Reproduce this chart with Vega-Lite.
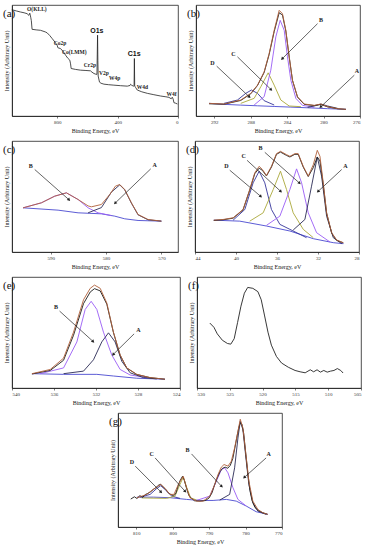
{
"$schema":"https://vega.github.io/schema/vega-lite/v6.json",
"padding":{"left":2,"top":4,"right":0,"bottom":0},
"background":"white",
"config":{
 "font":"Liberation Serif",
 "view":{"stroke":"#222","strokeWidth":0.8},
 "axis":{"labelFont":"Liberation Serif","titleFont":"Liberation Serif","labelFontSize":5,"titleFontSize":6,"titleFontWeight":"normal","labelColor":"#333","titleColor":"#222","domainColor":"#222","tickColor":"#222","grid":false,"tickSize":2,"domainWidth":0.8,"tickWidth":0.6,"labelPadding":1,"titlePadding":3},
 "axisY":{"labels":false,"ticks":false,"titlePadding":3},
 "title":{"font":"Liberation Serif","fontSize":11,"fontWeight":"normal","anchor":"start","frame":"bounds","offset":-14,"color":"#111"},
 "concat":{"spacing":6}
},
"datasets":{
"aC":[{"be":1101,"y":95.8},{"be":1070,"y":94.6},{"be":1044,"y":93.7},{"be":1020,"y":93.0},{"be":1000,"y":92.2},{"be":989,"y":90.7},{"be":982,"y":92.6},{"be":976,"y":89},{"be":972,"y":86},{"be":967,"y":78.1},{"be":940,"y":77.6},{"be":911,"y":77.2},{"be":880,"y":75.8},{"be":867,"y":74.9},{"be":850,"y":72.5},{"be":834,"y":69.8},{"be":815,"y":66.5},{"be":801,"y":63.8},{"be":796,"y":61.5},{"be":790,"y":61.2},{"be":779,"y":60.8},{"be":760,"y":58},{"be":745,"y":54.8},{"be":730,"y":52},{"be":717,"y":50.3},{"be":712,"y":47},{"be":708,"y":42.8},{"be":680,"y":42},{"be":646,"y":41.3},{"be":610,"y":41},{"be":580,"y":40.7},{"be":570,"y":39.5},{"be":557,"y":38.3},{"be":546,"y":37.7},{"be":537,"y":37.5},{"be":535,"y":55},{"be":533,"y":72.8},{"be":531,"y":50},{"be":529,"y":36},{"be":520,"y":30.5},{"be":510,"y":29.5},{"be":491,"y":28.7},{"be":460,"y":28.2},{"be":425,"y":27.8},{"be":380,"y":27.3},{"be":336,"y":26.9},{"be":318,"y":27.5},{"be":314,"y":28.6},{"be":308,"y":27.8},{"be":296,"y":26.9},{"be":291,"y":27.2},{"be":289,"y":51.8},{"be":287,"y":27},{"be":280,"y":25.5},{"be":270,"y":23.4},{"be":240,"y":21.8},{"be":203,"y":20.4},{"be":160,"y":19.2},{"be":115,"y":18.0},{"be":80,"y":17.3},{"be":60,"y":16.8},{"be":45,"y":15.5},{"be":38,"y":16.9},{"be":32,"y":15.2},{"be":27,"y":12.0},{"be":15,"y":11.5},{"be":4,"y":10.8}],
"aL":[{"lab":"O(KLL)","be":1000,"y":96.7},{"lab":"Co2p","be":823,"y":66.2},{"lab":"Co(LMM)","be":768,"y":57.8},{"lab":"O1s","be":538,"y":76.5},{"lab":"Cr2p","be":624,"y":45.8},{"lab":"V2p","be":524,"y":38.9},{"lab":"W4p","be":458,"y":33.8},{"lab":"C1s","be":290,"y":56.3},{"lab":"W4d","be":274,"y":25.7},{"lab":"W4f","be":77,"y":19.8}],
"bC":[
{"s":"bg","be":292.57,"y":11.4},{"s":"bg","be":290.92,"y":10.5},{"s":"bg","be":289.09,"y":9.8},{"s":"bg","be":287.25,"y":9.2},{"s":"bg","be":285.42,"y":8.6},{"s":"bg","be":283.59,"y":8.0},{"s":"bg","be":281.76,"y":7.4},{"s":"bg","be":279.56,"y":6.6},{"s":"bg","be":277.54,"y":6.0},
{"s":"D","be":290.92,"y":11.4},{"s":"D","be":289.45,"y":14.4},{"s":"D","be":288.54,"y":20.4},{"s":"D","be":287.91,"y":23.4},{"s":"D","be":287.25,"y":20.4},{"s":"D","be":286.52,"y":13.8},{"s":"D","be":285.42,"y":9.9},
{"s":"C","be":289.09,"y":11.4},{"s":"C","be":287.62,"y":15.9},{"s":"C","be":286.89,"y":26.3},{"s":"C","be":286.08,"y":38.9},{"s":"C","be":285.42,"y":27.8},{"s":"C","be":284.69,"y":14.4},{"s":"C","be":283.77,"y":9.0},{"s":"C","be":282.49,"y":8.4},
{"s":"B","be":287.62,"y":9.9},{"s":"B","be":286.52,"y":17.4},{"s":"B","be":285.79,"y":41.3},{"s":"B","be":285.24,"y":71.3},{"s":"B","be":284.76,"y":86.2},{"s":"B","be":284.32,"y":77.2},{"s":"B","be":283.96,"y":53.3},{"s":"B","be":283.59,"y":32.3},{"s":"B","be":283.04,"y":15.9},{"s":"B","be":282.31,"y":9.6},{"s":"B","be":281.02,"y":7.8},
{"s":"A","be":281.76,"y":7.8},{"s":"A","be":281.02,"y":9.0},{"s":"A","be":280.29,"y":10.8},{"s":"A","be":279.56,"y":9.0},{"s":"A","be":278.46,"y":6.9},
{"s":"data","be":292.57,"y":11.0},{"s":"data","be":290.92,"y":10.6},{"s":"data","be":289.09,"y":14.0},{"s":"data","be":287.99,"y":20.0},{"s":"data","be":287.25,"y":27.5},{"s":"data","be":286.52,"y":39.2},{"s":"data","be":285.97,"y":55.5},{"s":"data","be":285.42,"y":76.0},{"s":"data","be":284.87,"y":93.0},{"s":"data","be":284.51,"y":91.0},{"s":"data","be":284.14,"y":76.5},{"s":"data","be":283.77,"y":53.0},{"s":"data","be":283.41,"y":32.0},{"s":"data","be":282.86,"y":17.0},{"s":"data","be":282.12,"y":10.5},{"s":"data","be":281.02,"y":9.4},{"s":"data","be":280.29,"y":10.4},{"s":"data","be":279.56,"y":8.2},{"s":"data","be":278.46,"y":6.5},{"s":"data","be":277.54,"y":6.0},
{"s":"fit","be":292.57,"y":11.4},{"s":"fit","be":290.92,"y":10.8},{"s":"fit","be":289.09,"y":14.4},{"s":"fit","be":287.99,"y":20.4},{"s":"fit","be":287.25,"y":27.8},{"s":"fit","be":286.52,"y":39.8},{"s":"fit","be":285.97,"y":56.3},{"s":"fit","be":285.42,"y":77.2},{"s":"fit","be":284.87,"y":95.2},{"s":"fit","be":284.51,"y":92.2},{"s":"fit","be":284.14,"y":77.2},{"s":"fit","be":283.77,"y":53.3},{"s":"fit","be":283.41,"y":32.3},{"s":"fit","be":282.86,"y":17.4},{"s":"fit","be":282.12,"y":10.8},{"s":"fit","be":281.02,"y":9.6},{"s":"fit","be":280.29,"y":10.8},{"s":"fit","be":279.56,"y":8.4},{"s":"fit","be":278.46,"y":6.6},{"s":"fit","be":277.54,"y":6.0}],
"bA":[{"lab":"B","lx":280.29,"ly":86.8,"x1":280.66,"y1":83.2,"x2":284.51,"y2":51.8},{"lab":"C","lx":289.89,"ly":56.3,"x1":289.45,"y1":53.3,"x2":285.79,"y2":24.0},{"lab":"D","lx":292.2,"ly":47.9,"x1":291.73,"y1":44.9,"x2":288.17,"y2":17.4},{"lab":"A","lx":276.33,"ly":40.7,"x1":276.62,"y1":36.8,"x2":280.29,"y2":8.4}],
"cC":[
{"s":"bg","be":595,"y":39.8},{"s":"bg","be":588.67,"y":37.7},{"s":"bg","be":585.06,"y":35.3},{"s":"bg","be":580.84,"y":34.4},{"s":"bg","be":578.43,"y":32.3},{"s":"bg","be":576.63,"y":29.9},{"s":"bg","be":574.22,"y":28.4},{"s":"bg","be":570,"y":27.8},
{"s":"B","be":595,"y":39.8},{"s":"B","be":591.69,"y":44.3},{"s":"B","be":589.28,"y":50.3},{"s":"B","be":587.17,"y":53.3},{"s":"B","be":585.06,"y":47.3},{"s":"B","be":583.25,"y":39.8},{"s":"B","be":581.45,"y":35.3},{"s":"B","be":579.04,"y":32.8},
{"s":"A","be":583.25,"y":35.3},{"s":"A","be":580.84,"y":40.0},{"s":"A","be":579.04,"y":53.9},{"s":"A","be":577.53,"y":60.5},{"s":"A","be":576.63,"y":56.0},{"s":"A","be":575.42,"y":44.0},{"s":"A","be":574.22,"y":33.5},{"s":"A","be":572.41,"y":29.0},{"s":"A","be":570,"y":27.8},
{"s":"fit","be":595,"y":39.8},{"s":"fit","be":591.69,"y":44.3},{"s":"fit","be":589.28,"y":50.3},{"s":"fit","be":587.17,"y":53.3},{"s":"fit","be":585.06,"y":47.3},{"s":"fit","be":583.25,"y":41.5},{"s":"fit","be":582.65,"y":40.7},{"s":"fit","be":580.84,"y":42.8},{"s":"fit","be":579.34,"y":51.8},{"s":"fit","be":578.31,"y":59.3},{"s":"fit","be":577.53,"y":60.8},{"s":"fit","be":576.63,"y":56.3},{"s":"fit","be":575.42,"y":44.3},{"s":"fit","be":574.22,"y":33.8},{"s":"fit","be":572.41,"y":29.3},{"s":"fit","be":570,"y":27.8}],
"cA":[{"lab":"B","lx":593.61,"ly":77.8,"x1":592.89,"y1":74.3,"x2":586.75,"y2":47.3},{"lab":"A","lx":571.2,"ly":78.1,"x1":571.93,"y1":74.9,"x2":578.31,"y2":44.3}],
"dC":[
{"s":"bg","be":42.17,"y":28.7},{"s":"bg","be":39.63,"y":27.8},{"s":"bg","be":37.03,"y":23.4},{"s":"bg","be":34.74,"y":18.9},{"s":"bg","be":32.46,"y":12.0},{"s":"bg","be":30.51,"y":8.4},{"s":"bg","be":29.53,"y":7.5},
{"s":"D","be":40.28,"y":28.7},{"s":"D","be":39.14,"y":38.3},{"s":"D","be":38.33,"y":62.3},{"s":"D","be":37.74,"y":72.8},{"s":"D","be":37.19,"y":62.3},{"s":"D","be":36.54,"y":38.3},{"s":"D","be":35.72,"y":24.9},{"s":"D","be":34.74,"y":20.4},{"s":"D","be":33.12,"y":12.9},
{"s":"C","be":38.66,"y":27.8},{"s":"C","be":37.35,"y":35.3},{"s":"C","be":36.37,"y":56.3},{"s":"C","be":35.66,"y":72.8},{"s":"C","be":35.07,"y":56.3},{"s":"C","be":34.42,"y":35.3},{"s":"C","be":33.44,"y":20.4},{"s":"C","be":32.46,"y":12.9},
{"s":"B","be":37.03,"y":24.0},{"s":"B","be":35.72,"y":32.3},{"s":"B","be":34.74,"y":56.3},{"s":"B","be":34.09,"y":74.9},{"s":"B","be":33.6,"y":62.3},{"s":"B","be":32.95,"y":35.3},{"s":"B","be":32.14,"y":17.4},{"s":"B","be":30.83,"y":9.0},
{"s":"A","be":34.42,"y":19.8},{"s":"A","be":33.28,"y":29.3},{"s":"A","be":32.63,"y":59.3},{"s":"A","be":32.07,"y":85.6},{"s":"A","be":31.65,"y":68.3},{"s":"A","be":31.16,"y":32.3},{"s":"A","be":30.51,"y":12.9},{"s":"A","be":29.69,"y":7.5},
{"s":"data","be":42.17,"y":28.4},{"s":"data","be":41.26,"y":29.0},{"s":"data","be":40.28,"y":30.5},{"s":"data","be":39.31,"y":38.0},{"s":"data","be":38.66,"y":55.8},{"s":"data","be":38.17,"y":70.5},{"s":"data","be":37.74,"y":75.5},{"s":"data","be":37.42,"y":73.5},{"s":"data","be":37.03,"y":68.5},{"s":"data","be":36.54,"y":76.5},{"s":"data","be":36.05,"y":88.0},{"s":"data","be":35.66,"y":90.0},{"s":"data","be":35.07,"y":87.0},{"s":"data","be":34.74,"y":85.6},{"s":"data","be":34.26,"y":88.0},{"s":"data","be":33.93,"y":88.0},{"s":"data","be":33.44,"y":76.5},{"s":"data","be":32.95,"y":68.0},{"s":"data","be":32.46,"y":76.0},{"s":"data","be":32.07,"y":85.6},{"s":"data","be":31.81,"y":82.0},{"s":"data","be":31.49,"y":61.0},{"s":"data","be":31.16,"y":35.0},{"s":"data","be":30.67,"y":17.0},{"s":"data","be":30.18,"y":10.5},{"s":"data","be":29.53,"y":8.2},
{"s":"fit","be":42.17,"y":28.7},{"s":"fit","be":41.26,"y":29.3},{"s":"fit","be":40.28,"y":30.8},{"s":"fit","be":39.31,"y":38.3},{"s":"fit","be":38.66,"y":56.3},{"s":"fit","be":38.17,"y":71.3},{"s":"fit","be":37.74,"y":77.2},{"s":"fit","be":37.42,"y":74.3},{"s":"fit","be":37.03,"y":68.9},{"s":"fit","be":36.54,"y":77.2},{"s":"fit","be":36.05,"y":88.6},{"s":"fit","be":35.66,"y":90.7},{"s":"fit","be":35.07,"y":87.7},{"s":"fit","be":34.74,"y":86.2},{"s":"fit","be":34.26,"y":88.6},{"s":"fit","be":33.93,"y":88.6},{"s":"fit","be":33.44,"y":77.2},{"s":"fit","be":32.95,"y":68.3},{"s":"fit","be":32.46,"y":78.7},{"s":"fit","be":32.07,"y":91.6},{"s":"fit","be":31.81,"y":86.2},{"s":"fit","be":31.49,"y":62.3},{"s":"fit","be":31.16,"y":35.3},{"s":"fit","be":30.67,"y":17.4},{"s":"fit","be":30.18,"y":10.8},{"s":"fit","be":29.53,"y":8.4}],
"dA":[{"lab":"B","lx":37.61,"ly":93.7,"x1":37.19,"y1":89.8,"x2":33.83,"y2":62.3},{"lab":"C","lx":39.24,"ly":86.2,"x1":38.92,"y1":82.6,"x2":35.66,"y2":54.8},{"lab":"D","lx":40.94,"ly":77.2,"x1":40.61,"y1":73.7,"x2":37.61,"y2":50.3},{"lab":"A","lx":29.33,"ly":77.2,"x1":29.69,"y1":74.3,"x2":31.97,"y2":54.8}],
"eC":[
{"s":"bg","be":538.1,"y":12.9},{"s":"bg","be":535.09,"y":12.3},{"s":"bg","be":531.92,"y":12.3},{"s":"bg","be":530.34,"y":10.8},{"s":"bg","be":528.12,"y":8.8},{"s":"bg","be":525.43,"y":7.9},
{"s":"B","be":537.31,"y":12.9},{"s":"B","be":535.09,"y":18.1},{"s":"B","be":533.82,"y":41.5},{"s":"B","be":533.03,"y":70.8},{"s":"B","be":532.46,"y":78.1},{"s":"B","be":531.92,"y":70.8},{"s":"B","be":531.29,"y":50.3},{"s":"B","be":530.5,"y":29.8},{"s":"B","be":529.7,"y":16.7},{"s":"B","be":528.75,"y":11.7},{"s":"B","be":527.17,"y":9.4},
{"s":"A","be":535.09,"y":12.9},{"s":"A","be":533.19,"y":15.2},{"s":"A","be":532.24,"y":25.4},{"s":"A","be":531.45,"y":41.5},{"s":"A","be":530.81,"y":49.7},{"s":"A","be":530.18,"y":41.5},{"s":"A","be":529.54,"y":24.0},{"s":"A","be":528.75,"y":13.7},{"s":"A","be":527.49,"y":9.4},{"s":"A","be":526.22,"y":8.2},
{"s":"data","be":538.1,"y":12.6},{"s":"data","be":536.36,"y":15.8},{"s":"data","be":535.09,"y":25.0},{"s":"data","be":534.14,"y":47.5},{"s":"data","be":533.19,"y":76.0},{"s":"data","be":532.55,"y":86.5},{"s":"data","be":532.14,"y":89.5},{"s":"data","be":531.6,"y":87.5},{"s":"data","be":530.97,"y":75.5},{"s":"data","be":530.34,"y":50.0},{"s":"data","be":529.7,"y":29.5},{"s":"data","be":529.07,"y":18.0},{"s":"data","be":528.12,"y":12.2},{"s":"data","be":526.85,"y":9.3},{"s":"data","be":525.43,"y":7.9},
{"s":"fit","be":538.1,"y":12.9},{"s":"fit","be":536.36,"y":16.7},{"s":"fit","be":535.09,"y":26.9},{"s":"fit","be":534.14,"y":50.3},{"s":"fit","be":533.19,"y":79.5},{"s":"fit","be":532.55,"y":89.8},{"s":"fit","be":532.14,"y":92.7},{"s":"fit","be":531.6,"y":89.8},{"s":"fit","be":530.97,"y":76.6},{"s":"fit","be":530.34,"y":50.3},{"s":"fit","be":529.7,"y":29.8},{"s":"fit","be":529.07,"y":18.1},{"s":"fit","be":528.12,"y":12.3},{"s":"fit","be":526.85,"y":9.4},{"s":"fit","be":525.43,"y":7.9}],
"eA":[{"lab":"B","lx":535.82,"ly":73.1,"x1":535.47,"y1":69.3,"x2":532.3,"y2":42.1},{"lab":"A","lx":527.96,"ly":52.3,"x1":528.37,"y1":48.8,"x2":530.34,"y2":30.4}],
"fC":[{"be":528.04,"y":58.5},{"be":527.42,"y":54.7},{"be":526.91,"y":48.8},{"be":526.13,"y":43.0},{"be":525.36,"y":40.1},{"be":524.85,"y":39.5},{"be":524.33,"y":44.4},{"be":523.81,"y":59.1},{"be":523.3,"y":73.7},{"be":522.78,"y":85.4},{"be":522.27,"y":90.6},{"be":521.49,"y":89.8},{"be":520.72,"y":86.8},{"be":520.21,"y":79.5},{"be":519.69,"y":64.9},{"be":519.18,"y":50.3},{"be":518.66,"y":38.6},{"be":517.89,"y":28.4},{"be":517.11,"y":22.5},{"be":516.08,"y":18.7},{"be":515.05,"y":15.8},{"be":514.28,"y":14.6},{"be":513.51,"y":13.7},{"be":512.73,"y":16.4},{"be":512.22,"y":14.6},{"be":511.7,"y":16.4},{"be":511.19,"y":14.3},{"be":510.67,"y":15.8},{"be":510.15,"y":14.3},{"be":509.64,"y":15.2},{"be":509.12,"y":15.8},{"be":508.61,"y":17.5},{"be":508.09,"y":15.8},{"be":507.73,"y":13.5}],
"gC":[
{"s":"bg","be":809.82,"y":26.2},{"s":"bg","be":805.27,"y":26.2},{"s":"bg","be":800.73,"y":25.7},{"s":"bg","be":796.18,"y":24.2},{"s":"bg","be":792.55,"y":23.3},{"s":"bg","be":788.91,"y":23.3},{"s":"bg","be":785.27,"y":24.2},{"s":"bg","be":782.55,"y":22.7},{"s":"bg","be":779.82,"y":18.4},{"s":"bg","be":777.09,"y":13.4},{"s":"bg","be":773.91,"y":11.1},
{"s":"D","be":808.91,"y":26.2},{"s":"D","be":806.18,"y":28.6},{"s":"D","be":804.36,"y":33.8},{"s":"D","be":803.27,"y":36.2},{"s":"D","be":802.09,"y":32.9},{"s":"D","be":800.27,"y":27.1},{"s":"D","be":798.0,"y":25.1},
{"s":"C","be":808.5,"y":25.5},{"s":"C","be":801.64,"y":25.1},{"s":"C","be":799.36,"y":27.1},{"s":"C","be":798.0,"y":37.3},{"s":"C","be":797.09,"y":43.7},{"s":"C","be":796.18,"y":35.0},{"s":"C","be":795.09,"y":25.7},{"s":"C","be":793.45,"y":23.6},
{"s":"B","be":793.45,"y":23.3},{"s":"B","be":789.82,"y":27.1},{"s":"B","be":788.0,"y":40.2},{"s":"B","be":786.64,"y":50.4},{"s":"B","be":785.73,"y":51.9},{"s":"B","be":784.82,"y":47.5},{"s":"B","be":783.45,"y":34.4},{"s":"B","be":782.09,"y":24.2},{"s":"B","be":779.82,"y":18.4},
{"s":"A","be":787.09,"y":23.6},{"s":"A","be":784.36,"y":28.6},{"s":"A","be":783.0,"y":51.9},{"s":"A","be":782.09,"y":78.1},{"s":"A","be":781.45,"y":92.7},{"s":"A","be":780.73,"y":85.4},{"s":"A","be":780.0,"y":63.6},{"s":"A","be":779.09,"y":37.3},{"s":"A","be":778.0,"y":21.3},{"s":"A","be":776.64,"y":14.0},{"s":"A","be":774.36,"y":11.1},
{"s":"data","be":811.5,"y":24.5},{"s":"data","be":810.5,"y":26.5},{"s":"data","be":809.8,"y":25},{"s":"data","be":809,"y":27.5},{"s":"data","be":808.2,"y":26},{"s":"data","be":807.5,"y":28.5},{"s":"data","be":806.8,"y":29.5},{"s":"data","be":806,"y":31},{"s":"data","be":805.3,"y":33},{"s":"data","be":804.6,"y":34.5},{"s":"data","be":804,"y":36.5},{"s":"data","be":803.3,"y":37.5},{"s":"data","be":802.6,"y":35},{"s":"data","be":801.9,"y":33},{"s":"data","be":801.2,"y":30},{"s":"data","be":800.5,"y":28.5},{"s":"data","be":799.8,"y":27.5},{"s":"data","be":799.2,"y":29},{"s":"data","be":798.5,"y":36},{"s":"data","be":798,"y":40.5},{"s":"data","be":797.3,"y":44.5},{"s":"data","be":796.8,"y":41},{"s":"data","be":796.2,"y":34},{"s":"data","be":795.6,"y":28},{"s":"data","be":795,"y":25.5},{"s":"data","be":794,"y":23},{"s":"data","be":792.5,"y":22.7},{"s":"data","be":791,"y":23.2},{"s":"data","be":790,"y":25.5},{"s":"data","be":789.2,"y":30},{"s":"data","be":788.5,"y":37},{"s":"data","be":787.8,"y":43},{"s":"data","be":787,"y":48.5},{"s":"data","be":786.3,"y":51.5},{"s":"data","be":785.6,"y":52.5},{"s":"data","be":784.9,"y":51.5},{"s":"data","be":784.2,"y":54},{"s":"data","be":783.5,"y":60},{"s":"data","be":782.9,"y":70},{"s":"data","be":782.3,"y":80},{"s":"data","be":781.8,"y":88},{"s":"data","be":781.4,"y":91.5},{"s":"data","be":781,"y":90},{"s":"data","be":780.5,"y":82},{"s":"data","be":780,"y":66},{"s":"data","be":779.4,"y":48},{"s":"data","be":778.8,"y":32},{"s":"data","be":778.2,"y":23},{"s":"data","be":777.4,"y":17},{"s":"data","be":776.5,"y":14.5},{"s":"data","be":775.3,"y":12.5},{"s":"data","be":774,"y":11.2},
{"s":"fit","be":809.82,"y":25.7},{"s":"fit","be":808.45,"y":27.1},{"s":"fit","be":807.09,"y":28.6},{"s":"fit","be":805.73,"y":32.1},{"s":"fit","be":804.36,"y":35.0},{"s":"fit","be":803.27,"y":37.3},{"s":"fit","be":802.09,"y":33.8},{"s":"fit","be":800.73,"y":28.6},{"s":"fit","be":799.64,"y":28.6},{"s":"fit","be":798.45,"y":37.3},{"s":"fit","be":797.09,"y":44.5},{"s":"fit","be":796.18,"y":34.4},{"s":"fit","be":795.27,"y":25.7},{"s":"fit","be":793.45,"y":22.7},{"s":"fit","be":791.64,"y":22.7},{"s":"fit","be":789.82,"y":27.1},{"s":"fit","be":788.45,"y":37.3},{"s":"fit","be":787.55,"y":46.1},{"s":"fit","be":786.64,"y":52.5},{"s":"fit","be":785.91,"y":54.8},{"s":"fit","be":784.82,"y":53.4},{"s":"fit","be":783.91,"y":57.7},{"s":"fit","be":783.0,"y":69.4},{"s":"fit","be":782.09,"y":84.0},{"s":"fit","be":781.45,"y":94.5},{"s":"fit","be":780.73,"y":86.9},{"s":"fit","be":780.0,"y":66.5},{"s":"fit","be":779.09,"y":40.2},{"s":"fit","be":778.0,"y":22.7},{"s":"fit","be":776.64,"y":15.5},{"s":"fit","be":775.27,"y":12.5},{"s":"fit","be":773.91,"y":11.1}],
"gA":[{"lab":"D","lx":811.18,"ly":56.9,"x1":810.27,"y1":53.4,"x2":803.27,"y2":30.9},{"lab":"C","lx":805.73,"ly":64.4,"x1":804.82,"y1":60.6,"x2":796.64,"y2":31.5},{"lab":"B","lx":795.91,"ly":67.9,"x1":794.82,"y1":64.1,"x2":786.64,"y2":35.9},{"lab":"A","lx":773.64,"ly":64.1,"x1":774.36,"y1":60.6,"x2":780.27,"y2":43.7}]
},
"vconcat":[
{"hconcat":[
 {"width":166,"height":111,"title":{"text":"(a)"},
  "layer":[
   {"data":{"name":"aC"},"mark":{"type":"line","strokeWidth":0.8,"color":"#222"},
    "encoding":{"x":{"field":"be","type":"quantitative","title":"Binding Energy, eV","scale":{"domain":[0,1100],"reverse":true,"nice":false,"zero":false},"axis":{"values":[1000,800,600,400,200,0]}},
     "y":{"field":"y","type":"quantitative","title":"Intensity (Arbitrary Unit)","scale":{"domain":[0,100],"nice":false}}}},
   {"data":{"name":"aL"},"transform":[{"filter":"datum.lab != 'O1s' && datum.lab != 'C1s'"}],"mark":{"type":"text","fontSize":5.5,"align":"left","fontWeight":"bold","color":"#222"},
    "encoding":{"x":{"field":"be","type":"quantitative","title":"Binding Energy, eV"},"y":{"field":"y","type":"quantitative","title":"Intensity (Arbitrary Unit)"},"text":{"field":"lab"}}},
   {"data":{"name":"aL"},"transform":[{"filter":"datum.lab == 'O1s' || datum.lab == 'C1s'"}],"mark":{"type":"text","fontSize":7,"align":"center","fontWeight":"bold","font":"Liberation Sans","color":"#111"},
    "encoding":{"x":{"field":"be","type":"quantitative","title":"Binding Energy, eV"},"y":{"field":"y","type":"quantitative","title":"Intensity (Arbitrary Unit)"},"text":{"field":"lab"}}}
  ]},
 {"width":164,"height":111,"title":{"text":"(b)"},
  "layer":[
   {"data":{"name":"bC"},"mark":{"type":"line","strokeWidth":0.9},
    "encoding":{"x":{"field":"be","type":"quantitative","title":"Binding Energy, eV","scale":{"domain":[276,294],"reverse":true,"nice":false,"zero":false},"axis":{"values":[294,292,290,288,286,284,282,280,278,276]}},
     "y":{"field":"y","type":"quantitative","title":"Intensity (Arbitrary Unit)","scale":{"domain":[0,100],"nice":false}},
     "color":{"field":"s","type":"nominal","legend":null,"scale":{"domain":["bg","D","C","B","A","data","fit"],"range":["#4a4ad0","#34349a","#aaa83a","#9a5cf5","#2a2a55","#1a1a1a","#b0603a"]}}}},
   {"data":{"name":"bA"},"mark":{"type":"rule","strokeWidth":0.7,"color":"#222"},
    "encoding":{"x":{"field":"x1","type":"quantitative","title":"Binding Energy, eV"},"y":{"field":"y1","type":"quantitative","title":"Intensity (Arbitrary Unit)"},"x2":{"field":"x2"},"y2":{"field":"y2"}}},
   {"data":{"name":"bA"},"mark":{"type":"point","shape":"triangle","filled":true,"size":12,"color":"#222","opacity":1},
    "encoding":{"x":{"field":"x2","type":"quantitative","title":"Binding Energy, eV"},"y":{"field":"y2","type":"quantitative","title":"Intensity (Arbitrary Unit)"},"angle":{"condition":{"test":"datum.x2 > datum.x1","value":225},"value":135}}},
   {"data":{"name":"bA"},"mark":{"type":"text","fontSize":6,"fontWeight":"bold","color":"#222"},
    "encoding":{"x":{"field":"lx","type":"quantitative","title":"Binding Energy, eV"},"y":{"field":"ly","type":"quantitative","title":"Intensity (Arbitrary Unit)"},"text":{"field":"lab"}}}
  ]}
]},
{"hconcat":[
 {"width":166,"height":111,"title":{"text":"(c)"},
  "layer":[
   {"data":{"name":"cC"},"mark":{"type":"line","strokeWidth":0.9},
    "encoding":{"x":{"field":"be","type":"quantitative","title":"Binding Energy, eV","scale":{"domain":[567,597],"reverse":true,"nice":false,"zero":false},"axis":{"values":[595,590,585,580,575,570]}},
     "y":{"field":"y","type":"quantitative","title":"Intensity (Arbitrary Unit)","scale":{"domain":[0,100],"nice":false}},
     "color":{"field":"s","type":"nominal","legend":null,"scale":{"domain":["bg","B","A","fit"],"range":["#5a3ad0","#a070e0","#4f6060","#8a6a4a"]}}}},
   {"data":{"name":"cA"},"mark":{"type":"rule","strokeWidth":0.7,"color":"#222"},
    "encoding":{"x":{"field":"x1","type":"quantitative","title":"Binding Energy, eV"},"y":{"field":"y1","type":"quantitative","title":"Intensity (Arbitrary Unit)"},"x2":{"field":"x2"},"y2":{"field":"y2"}}},
   {"data":{"name":"cA"},"mark":{"type":"point","shape":"triangle","filled":true,"size":12,"color":"#222","opacity":1},
    "encoding":{"x":{"field":"x2","type":"quantitative","title":"Binding Energy, eV"},"y":{"field":"y2","type":"quantitative","title":"Intensity (Arbitrary Unit)"},"angle":{"condition":{"test":"datum.x2 > datum.x1","value":225},"value":135}}},
   {"data":{"name":"cA"},"mark":{"type":"text","fontSize":6,"fontWeight":"bold","color":"#222"},
    "encoding":{"x":{"field":"lx","type":"quantitative","title":"Binding Energy, eV"},"y":{"field":"ly","type":"quantitative","title":"Intensity (Arbitrary Unit)"},"text":{"field":"lab"}}}
  ]},
 {"width":164,"height":111,"title":{"text":"(d)"},
  "layer":[
   {"data":{"name":"dC"},"mark":{"type":"line","strokeWidth":0.9},
    "encoding":{"x":{"field":"be","type":"quantitative","title":"Binding Energy, eV","scale":{"domain":[28,44],"reverse":true,"nice":false,"zero":false},"axis":{"values":[44,42,40,38,36,34,32,30,28]}},
     "y":{"field":"y","type":"quantitative","title":"Intensity (Arbitrary Unit)","scale":{"domain":[0,100],"nice":false}},
     "color":{"field":"s","type":"nominal","legend":null,"scale":{"domain":["bg","D","C","B","A","data","fit"],"range":["#3a40c0","#303080","#a8a830","#a060f0","#4a78e0","#1a1a1a","#b05a3a"]}}}},
   {"data":{"name":"dA"},"mark":{"type":"rule","strokeWidth":0.7,"color":"#222"},
    "encoding":{"x":{"field":"x1","type":"quantitative","title":"Binding Energy, eV"},"y":{"field":"y1","type":"quantitative","title":"Intensity (Arbitrary Unit)"},"x2":{"field":"x2"},"y2":{"field":"y2"}}},
   {"data":{"name":"dA"},"mark":{"type":"point","shape":"triangle","filled":true,"size":12,"color":"#222","opacity":1},
    "encoding":{"x":{"field":"x2","type":"quantitative","title":"Binding Energy, eV"},"y":{"field":"y2","type":"quantitative","title":"Intensity (Arbitrary Unit)"},"angle":{"condition":{"test":"datum.x2 > datum.x1","value":225},"value":135}}},
   {"data":{"name":"dA"},"mark":{"type":"text","fontSize":6,"fontWeight":"bold","color":"#222"},
    "encoding":{"x":{"field":"lx","type":"quantitative","title":"Binding Energy, eV"},"y":{"field":"ly","type":"quantitative","title":"Intensity (Arbitrary Unit)"},"text":{"field":"lab"}}}
  ]}
]},
{"hconcat":[
 {"width":168,"height":111,"title":{"text":"(e)"},
  "layer":[
   {"data":{"name":"eC"},"mark":{"type":"line","strokeWidth":0.9},
    "encoding":{"x":{"field":"be","type":"quantitative","title":"Binding Energy, eV","scale":{"domain":[524,540],"reverse":true,"nice":false,"zero":false},"axis":{"values":[540,538,536,534,532,530,528,526,524]}},
     "y":{"field":"y","type":"quantitative","title":"Intensity (Arbitrary Unit)","scale":{"domain":[0,100],"nice":false}},
     "color":{"field":"s","type":"nominal","legend":null,"scale":{"domain":["bg","B","A","data","fit"],"range":["#3030c0","#a060f0","#5f7a7a","#1a1a1a","#a0522d"]}}}},
   {"data":{"name":"eA"},"mark":{"type":"rule","strokeWidth":0.7,"color":"#222"},
    "encoding":{"x":{"field":"x1","type":"quantitative","title":"Binding Energy, eV"},"y":{"field":"y1","type":"quantitative","title":"Intensity (Arbitrary Unit)"},"x2":{"field":"x2"},"y2":{"field":"y2"}}},
   {"data":{"name":"eA"},"mark":{"type":"point","shape":"triangle","filled":true,"size":12,"color":"#222","opacity":1},
    "encoding":{"x":{"field":"x2","type":"quantitative","title":"Binding Energy, eV"},"y":{"field":"y2","type":"quantitative","title":"Intensity (Arbitrary Unit)"},"angle":{"condition":{"test":"datum.x2 > datum.x1","value":225},"value":135}}},
   {"data":{"name":"eA"},"mark":{"type":"text","fontSize":6,"fontWeight":"bold","color":"#222"},
    "encoding":{"x":{"field":"lx","type":"quantitative","title":"Binding Energy, eV"},"y":{"field":"ly","type":"quantitative","title":"Intensity (Arbitrary Unit)"},"text":{"field":"lab"}}}
  ]},
 {"width":164,"height":111,"title":{"text":"(f)"},
  "layer":[
   {"data":{"name":"fC"},"mark":{"type":"line","strokeWidth":0.9,"color":"#222"},
    "encoding":{"x":{"field":"be","type":"quantitative","title":"Binding Energy, eV","scale":{"domain":[505,530],"reverse":true,"nice":false,"zero":false},"axis":{"values":[530,525,520,515,510,505]}},
     "y":{"field":"y","type":"quantitative","title":"Intensity (Arbitrary Unit)","scale":{"domain":[0,100],"nice":false}}}}
  ]}
]},
{"hconcat":[
 {"width":90,"height":20,"data":{"values":[{}]},"mark":{"type":"text"},"encoding":{"text":{"value":""}},"view":{"stroke":null}},
 {"width":164,"height":114,"title":{"text":"(g)"},
  "layer":[
   {"data":{"name":"gC"},"mark":{"type":"line","strokeWidth":0.9},
    "encoding":{"x":{"field":"be","type":"quantitative","title":"Binding Energy, eV","scale":{"domain":[770,815],"reverse":true,"nice":false,"zero":false},"axis":{"values":[810,800,790,780,770]}},
     "y":{"field":"y","type":"quantitative","title":"Intensity (Arbitrary Unit)","scale":{"domain":[0,100],"nice":false}},
     "color":{"field":"s","type":"nominal","legend":null,"scale":{"domain":["bg","D","C","B","A","data","fit"],"range":["#3a3ab0","#303080","#a89a20","#a070e0","#607890","#1a1a1a","#c08040"]}}}},
   {"data":{"name":"gA"},"mark":{"type":"rule","strokeWidth":0.7,"color":"#222"},
    "encoding":{"x":{"field":"x1","type":"quantitative","title":"Binding Energy, eV"},"y":{"field":"y1","type":"quantitative","title":"Intensity (Arbitrary Unit)"},"x2":{"field":"x2"},"y2":{"field":"y2"}}},
   {"data":{"name":"gA"},"mark":{"type":"point","shape":"triangle","filled":true,"size":12,"color":"#222","opacity":1},
    "encoding":{"x":{"field":"x2","type":"quantitative","title":"Binding Energy, eV"},"y":{"field":"y2","type":"quantitative","title":"Intensity (Arbitrary Unit)"},"angle":{"condition":{"test":"datum.x2 > datum.x1","value":225},"value":135}}},
   {"data":{"name":"gA"},"mark":{"type":"text","fontSize":6,"fontWeight":"bold","color":"#222"},
    "encoding":{"x":{"field":"lx","type":"quantitative","title":"Binding Energy, eV"},"y":{"field":"ly","type":"quantitative","title":"Intensity (Arbitrary Unit)"},"text":{"field":"lab"}}}
  ]}
]}
]
}
